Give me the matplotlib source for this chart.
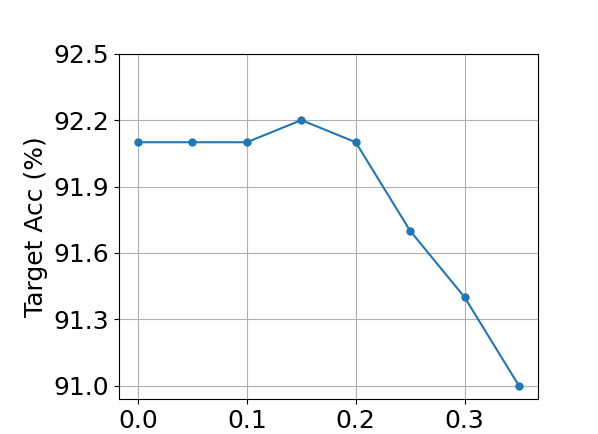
import matplotlib
matplotlib.use("Agg")
import matplotlib.pyplot as plt

x_vals = [0.0, 0.05, 0.1, 0.15, 0.2, 0.25, 0.3, 0.35]
acc = [92.1, 92.1, 92.1, 92.2, 92.1, 91.7, 91.4, 91.0]
y_ticks = [91.0, 91.3, 91.6, 91.9, 92.2, 92.5]
x_ticks = [0.0, 0.1, 0.2, 0.3]

fig = plt.figure(figsize=(5.98, 4.34), dpi=100)
ax = fig.add_axes([119/598, 1-399/434, (538-119)/598, (399-53.7)/434])
ax.plot(x_vals, acc, marker='o', markersize=5, color='#1f77b4', linewidth=1.5)
ax.set_ylim(top=92.5)
ax.set_yticks(y_ticks)
ax.set_xticks(x_ticks)
ax.set_yticklabels([f"{v:.1f}" for v in y_ticks])
ax.set_xticklabels([f"{v:.1f}" for v in x_ticks])
ax.set_ylim(90.94, 92.5)
ax.tick_params(labelsize=18)
ax.set_ylabel("Target Acc (%)", fontsize=18)
ax.grid(True)
fig.savefig("out.png", dpi=100)
